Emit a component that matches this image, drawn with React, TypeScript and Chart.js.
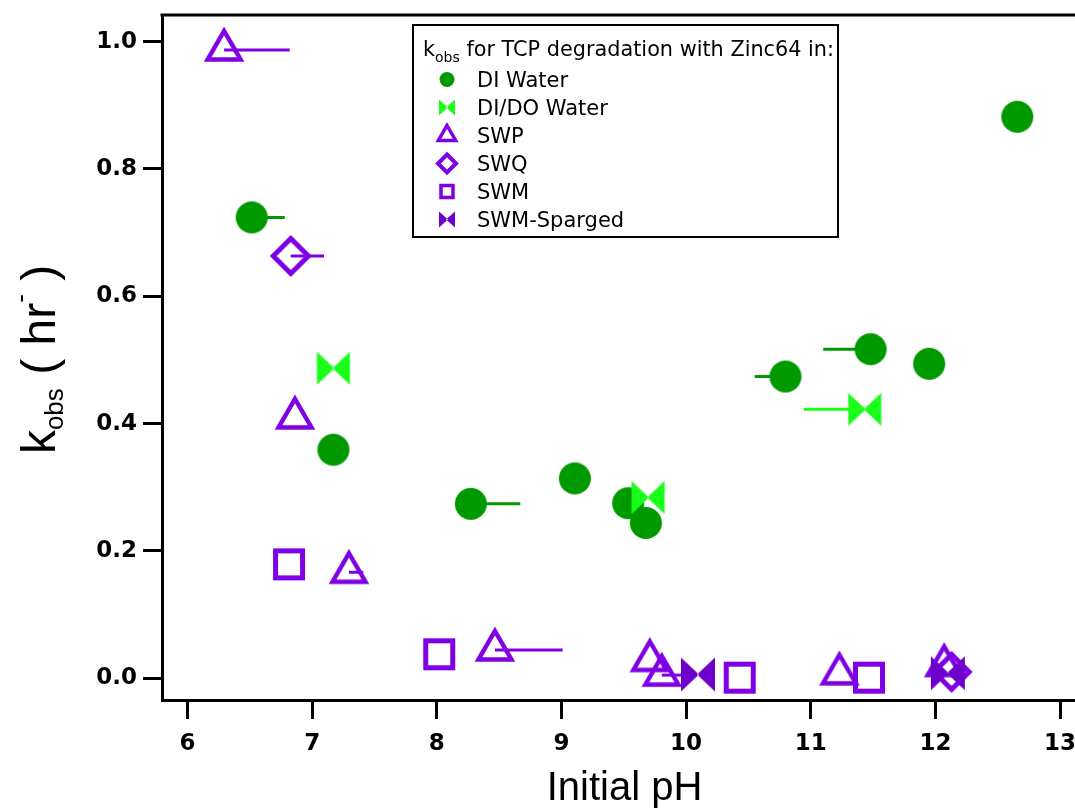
import React, { useEffect, useRef } from 'react';
import { Chart, registerables } from 'chart.js';

Chart.register(...registerables);

// ---------------- data ----------------
const xTickValues = [6, 7, 8, 9, 10, 11, 12, 13];
const xTickLabels = ['6', '7', '8', '9', '10', '11', '12', '13'];
const yTickValues = [0, 0.2, 0.4, 0.6, 0.8, 1.0];
const yTickLabels = ['0.0', '0.2', '0.4', '0.6', '0.8', '1.0'];

const seriesNames = ['DI Water', 'DI/DO Water', 'SWP', 'SWQ', 'SWM', 'SWM-Sparged'];

const diWaterPH = [6.515, 7.17, 8.273, 9.107, 9.535, 9.677, 10.797, 11.48, 11.95, 12.657];
const diWaterK = [0.724, 0.359, 0.274, 0.314, 0.275, 0.244, 0.474, 0.517, 0.494, 0.882];
const diWaterEndPH = [6.78, null, 8.67, null, null, null, 10.55, 11.1, null, null];

const diDoWaterPH = [7.17, 9.695, 11.433];
const diDoWaterK = [0.487, 0.284, 0.4225];
const diDoWaterEndPH = [null, null, 10.944];

const swpPH = [6.293, 6.862, 7.295, 8.466, 9.709, 9.805, 11.23, 12.07];
const swpK = [0.987, 0.409, 0.1665, 0.0445, 0.028, 0.005, 0.007, 0.02];
const swpEndPH = [6.82, null, 7.41, 9.009, null, 10.03, null, null];

const swqPH = [6.828, 12.13];
const swqK = [0.6634, 0.01];
const swqEndPH = [7.095, null];

const swmPH = [6.814, 8.019, 10.43, 11.467];
const swmK = [0.179, 0.0377, 0.001, 0.001];
const swmEndPH = [null, null, null, null];

const swmSpargedPH = [10.095, 12.1];
const swmSpargedK = [0.006, 0.008];
const swmSpargedEndPH = [null, null];

const legendTitleMain = 'k';
const legendTitleSub = 'obs';
const legendTitleRest = ' for TCP degradation with Zinc64 in:';
const xTitle = 'Initial pH';

// ---------------- styles ----------------
type Shape = 'circle' | 'triangle' | 'diamond' | 'square' | 'bowtie';
interface MarkerStyle {
  shape: Shape;
  color: string;
  size: number;
  lw: number;
  lsize: number;
  llw: number;
}

const GREEN = '#009a00';
const LIME = '#1aff1a';
const PURPLE = '#8000e6';
const DARKPURPLE = '#6e00cc';

const styles: MarkerStyle[] = [
  { shape: 'circle', color: GREEN, size: 16, lw: 0, lsize: 7.5, llw: 0 },
  { shape: 'bowtie', color: LIME, size: 16.5, lw: 0, lsize: 8, llw: 0 },
  { shape: 'triangle', color: PURPLE, size: 19, lw: 4.5, lsize: 10, llw: 3.5 },
  { shape: 'diamond', color: PURPLE, size: 17.5, lw: 5, lsize: 9, llw: 4 },
  { shape: 'square', color: PURPLE, size: 13.5, lw: 5, lsize: 6, llw: 3.5 },
  { shape: 'bowtie', color: DARKPURPLE, size: 17, lw: 0, lsize: 8, llw: 0 },
];

const seriesPH = [diWaterPH, diDoWaterPH, swpPH, swqPH, swmPH, swmSpargedPH];
const seriesK = [diWaterK, diDoWaterK, swpK, swqK, swmK, swmSpargedK];
const seriesEnd = [diWaterEndPH, diDoWaterEndPH, swpEndPH, swqEndPH, swmEndPH, swmSpargedEndPH];

function drawMarker(ctx: CanvasRenderingContext2D, shape: Shape, cx: number, cy: number, s: number, color: string, lw: number) {
  ctx.save();
  ctx.fillStyle = color;
  ctx.strokeStyle = color;
  ctx.lineWidth = lw;
  ctx.lineJoin = 'miter';
  ctx.beginPath();
  switch (shape) {
    case 'circle':
      ctx.arc(cx, cy, s, 0, Math.PI * 2);
      ctx.fill();
      break;
    case 'triangle':
      ctx.moveTo(cx, cy - s);
      ctx.lineTo(cx + s * 0.866, cy + s * 0.5);
      ctx.lineTo(cx - s * 0.866, cy + s * 0.5);
      ctx.closePath();
      ctx.stroke();
      break;
    case 'diamond':
      ctx.moveTo(cx, cy - s);
      ctx.lineTo(cx + s, cy);
      ctx.lineTo(cx, cy + s);
      ctx.lineTo(cx - s, cy);
      ctx.closePath();
      ctx.stroke();
      break;
    case 'square':
      ctx.rect(cx - s, cy - s, 2 * s, 2 * s);
      ctx.stroke();
      break;
    case 'bowtie':
      ctx.moveTo(cx - s, cy - s);
      ctx.lineTo(cx + 1, cy);
      ctx.lineTo(cx - s, cy + s);
      ctx.closePath();
      ctx.moveTo(cx + s, cy - s);
      ctx.lineTo(cx - 1, cy);
      ctx.lineTo(cx + s, cy + s);
      ctx.closePath();
      ctx.fill();
      break;
  }
  ctx.restore();
}

function markerCanvas(m: MarkerStyle): HTMLCanvasElement {
  const half = Math.ceil(m.size + m.lw * 2 + 6);
  const c = document.createElement('canvas');
  c.width = half * 2;
  c.height = half * 2;
  const ctx = c.getContext('2d')!;
  drawMarker(ctx, m.shape, half, half, m.size, m.color, m.lw);
  return c;
}

const FONT_SANS = '"DejaVu Sans", "Liberation Sans", sans-serif';
const FONT_TITLE = '"Liberation Sans", Arial, sans-serif';

const decorPlugin = {
  id: 'decor',
  beforeDatasetsDraw(chart: any) {
    const { ctx, chartArea } = chart;
    const xs = chart.scales.x;
    const ys = chart.scales.y;
    ctx.save();
    ctx.beginPath();
    ctx.rect(chartArea.left, chartArea.top, chartArea.right - chartArea.left, chartArea.bottom - chartArea.top);
    ctx.clip();
    ctx.lineWidth = 3;
    ctx.lineCap = 'butt';
    seriesPH.forEach((phs, si) => {
      phs.forEach((p, i) => {
        const e = seriesEnd[si][i];
        if (e === null || e === undefined) return;
        const y = ys.getPixelForValue(seriesK[si][i]);
        ctx.strokeStyle = styles[si].color;
        ctx.beginPath();
        ctx.moveTo(xs.getPixelForValue(p), y);
        ctx.lineTo(xs.getPixelForValue(e), y);
        ctx.stroke();
      });
    });
    ctx.restore();
  },
  afterDraw(chart: any) {
    const { ctx, chartArea } = chart;
    ctx.save();
    // top frame line
    ctx.strokeStyle = '#000';
    ctx.lineWidth = 3;
    ctx.beginPath();
    ctx.moveTo(chartArea.left - 1.5, chartArea.top);
    ctx.lineTo(chartArea.right, chartArea.top);
    ctx.stroke();

    // legend box
    const lx = 413, ly = 25, lw = 425, lh = 212;
    ctx.fillStyle = '#fff';
    ctx.fillRect(lx, ly, lw, lh);
    ctx.lineWidth = 2;
    ctx.strokeStyle = '#000';
    ctx.strokeRect(lx, ly, lw, lh);

    ctx.fillStyle = '#000';
    ctx.textBaseline = 'alphabetic';
    ctx.textAlign = 'left';
    let tx = lx + 10;
    const tBase = 56;
    ctx.font = `20.8px ${FONT_SANS}`;
    ctx.fillText(legendTitleMain, tx, tBase);
    tx += ctx.measureText(legendTitleMain).width;
    ctx.font = `14px ${FONT_SANS}`;
    ctx.fillText(legendTitleSub, tx, tBase + 5.5);
    tx += ctx.measureText(legendTitleSub).width;
    ctx.font = `20.8px ${FONT_SANS}`;
    ctx.fillText(legendTitleRest, tx, tBase);

    seriesNames.forEach((name, i) => {
      const st = styles[i];
      const cy = 79.5 + 28 * i;
      drawMarker(ctx, st.shape, lx + 34, cy, st.lsize, st.color, st.llw);
      ctx.fillStyle = '#000';
      ctx.font = `21px ${FONT_SANS}`;
      ctx.fillText(name, lx + 64, cy + 7.5);
    });

    // x title
    ctx.fillStyle = '#000';
    ctx.font = `40px ${FONT_TITLE}`;
    ctx.textAlign = 'center';
    ctx.fillText(xTitle, (chartArea.left + chartArea.right) / 2 + 6, 800);

    // y title (rotated, with sub/superscript)
    const big = `48px ${FONT_TITLE}`;
    const small = `26px ${FONT_TITLE}`;
    const parts: [string, string, number][] = [
      ['k', big, 0],
      ['obs', small, 8],
      [' ( hr', big, 0],
      ['-', small, -26],
      [' )', big, 0],
    ];
    let total = 0;
    parts.forEach(([t, f]) => {
      ctx.font = f;
      total += ctx.measureText(t).width;
    });
    ctx.translate(55, (chartArea.top + chartArea.bottom) / 2 + 2);
    ctx.rotate(-Math.PI / 2);
    ctx.textAlign = 'left';
    let px = -total / 2;
    parts.forEach(([t, f, dy]) => {
      ctx.font = f;
      ctx.fillText(t, px, dy);
      px += ctx.measureText(t).width;
    });
    ctx.restore();
  },
};

export default function App() {
  const ref = useRef<HTMLCanvasElement>(null);
  useEffect(() => {
    document.body.style.margin = '0';
    const canvas = ref.current!;
    const datasets = seriesNames.map((name, si) => {
      const m = styles[si];
      return {
        label: name,
        data: seriesPH[si].map((p, i) => ({ x: p, y: seriesK[si][i] })),
        pointStyle: markerCanvas(m) as any,
        pointRadius: 16,
        pointHoverRadius: 16,
        borderColor: m.color,
        backgroundColor: m.color,
        showLine: false,
        order: 6 - si,
      };
    });
    const chart = new Chart(canvas, {
      type: 'scatter',
      data: { datasets },
      plugins: [decorPlugin],
      options: {
        animation: false,
        responsive: false,
        events: [],
        layout: { autoPadding: false, padding: { top: 15, right: 0, left: 0, bottom: 0 } },
        plugins: { legend: { display: false }, tooltip: { enabled: false } },
        scales: {
          x: {
            type: 'linear',
            min: 5.795,
            max: 13.12,
            afterFit: (s: any) => { s.height = 109; s.paddingLeft = 0; s.paddingRight = 0; },
            afterBuildTicks: (s: any) => { s.ticks = xTickValues.map((v) => ({ value: v })); },
            border: { display: true, color: '#000', width: 3 },
            grid: { display: true, drawOnChartArea: false, drawTicks: true, tickLength: 19, tickWidth: 3, tickColor: '#000' },
            ticks: {
              color: '#000',
              padding: 11,
              maxRotation: 0,
              autoSkip: false,
              font: { family: FONT_SANS, size: 23, weight: 'bold' },
              callback: (_v: any, i: number) => xTickLabels[i],
            },
          },
          y: {
            type: 'linear',
            min: -0.0341,
            max: 1.0419,
            afterFit: (s: any) => { s.width = 162; s.paddingTop = 0; s.paddingBottom = 0; },
            afterBuildTicks: (s: any) => { s.ticks = yTickValues.map((v) => ({ value: v })); },
            border: { display: true, color: '#000', width: 3 },
            grid: { display: true, drawOnChartArea: false, drawTicks: true, tickLength: 19, tickWidth: 3, tickColor: '#000' },
            ticks: {
              color: '#000',
              padding: 6,
              autoSkip: false,
              font: { family: FONT_SANS, size: 23, weight: 'bold' },
              callback: (_v: any, i: number) => yTickLabels[i],
            },
          },
        },
      } as any,
    });
    return () => chart.destroy();
  }, []);
  return (
    <div style={{ width: 1075, height: 809 }}>
      <canvas ref={ref} width={1075} height={809} style={{ display: 'block' }} />
    </div>
  );
}
